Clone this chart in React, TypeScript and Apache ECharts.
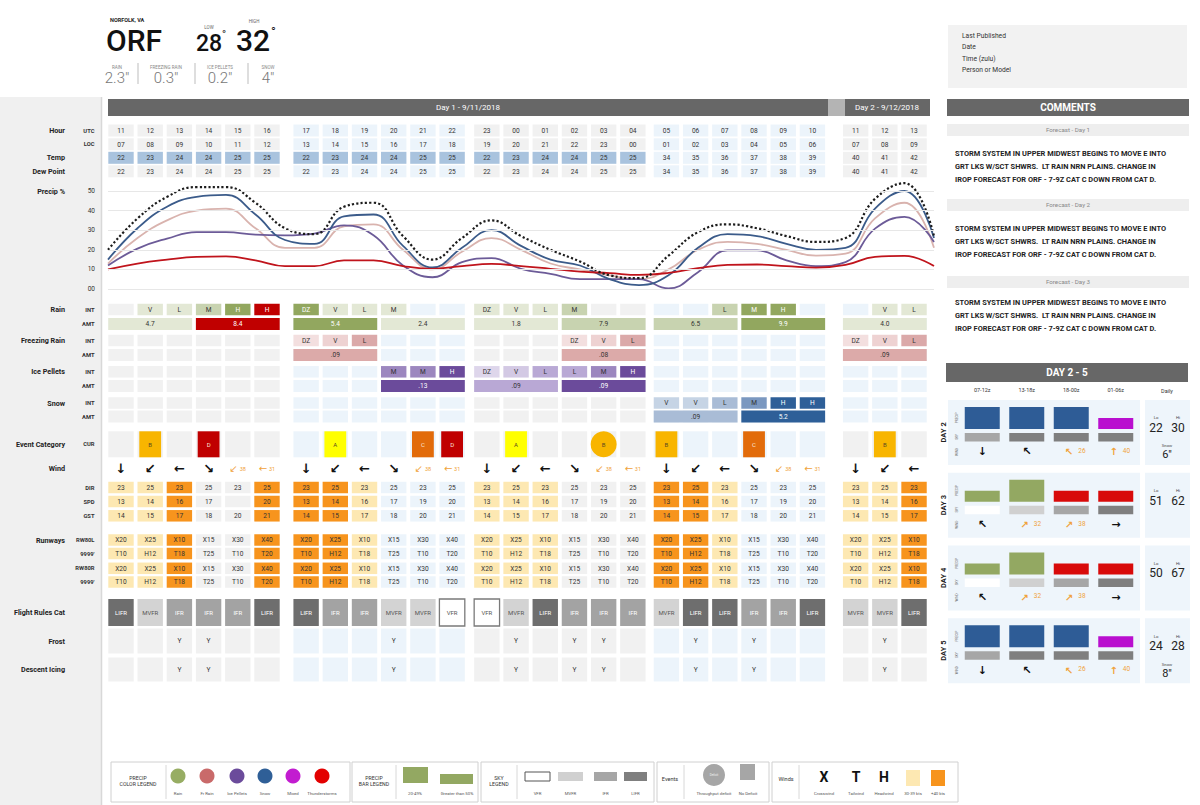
import React, { useEffect, useRef } from 'react';
import * as echarts from 'echarts';

// ================= DATA =================
const HOURS_UTC = ['11','12','13','14','15','16','17','18','19','20','21','22','23','00','01','02','03','04','05','06','07','08','09','10','11','12','13'];
const HOURS_LOC = ['07','08','09','10','11','12','13','14','15','16','17','18','19','20','21','22','23','00','01','02','03','04','05','06','07','08','09'];
const TEMP_F = [22,23,24,24,25,25,22,23,24,24,25,25,22,23,24,24,25,25,34,35,36,37,38,39,40,41,42];
const DEW_POINT_F = [22,23,24,24,25,25,22,23,24,24,25,25,22,23,24,24,25,25,34,35,36,37,38,39,40,41,42];

const PRECIP_TIME = ['10','11','12','13','14','15','16','17','18','19','20','21','22','23','00','01','02','03','04','05','06','07','08','09','10','11','12','13','14'];
const PRECIP_TOTAL = [20,36,47,52,52,44,31,28,42,44,27,15,26,35,27,20,14,7,5.5,17,29,33,31,27,24,26,46,54,27];
const PRECIP_SNOW = [15,31,42,47,48,38,25,23,37,38,22,11,21,30,22,15,12,5,2,7,21,28,27,23,20,21,41,50,26];
const PRECIP_FZRA = [13,26,35,40,41,31,21,21,32,33,20,10,19,26,20,13,10,7,5,10,20,24,23,20,17,18,36,44,21];
const PRECIP_ICE = [12,20.6,25.7,29,29,27.7,27.4,28.3,32.5,27.4,12,6,13.7,15.8,10.3,7.7,5,5,5,0.3,8.6,19.7,19.7,14.6,11.7,13.7,30.8,36.8,24];
const PRECIP_TSTM = [10,13,15,16.4,16.6,14.6,11.7,11.7,14.6,14.6,11.7,10.3,11.7,12.8,11.7,10.3,8.9,8.1,7.2,8.2,10.6,12.3,12.5,11.7,10.9,12.3,16.4,16.9,11.7];

const RAIN_INT = ['','V','L','M','H','H','DZ','V','L','M','','','DZ','V','L','M','','','','','L','M','H','','','V','L'];
const RAIN_INT_SHADE = [0,1,1,2,3,4,3,1,1,1,0,0,1,1,1,2,0,0,0,0,2,3,3,0,0,1,1];
const RAIN_AMT = ['4.7','8.4','5.4','2.4','1.8','7.9','6.5','9.9','4.0'];
const RAIN_AMT_SHADE = [1,4,3,1,1,2,2,3,1];
const FZRA_INT = ['','','','','','','DZ','V','L','','','','','','','DZ','V','L','','','','','','','DZ','V','L'];
const FZRA_AMT = ['','','.09','','','.08','','','.09'];
const ICE_INT = ['','','','','','','','','','M','M','H','DZ','V','L','L','M','H','','','','','','','','',''];
const ICE_AMT = ['','','','.13','.09','.09','','',''];
const ICE_AMT_SHADE = [0,0,0,2,1,2,0,0,0];
const SNOW_INT = ['','','','','','','','','','','','','','','','','','','V','V','L','M','H','H','','',''];
const SNOW_AMT = ['','','','','','','.09','5.2',''];
const SNOW_AMT_SHADE = [0,0,0,0,0,0,1,2,0];

const EVENT_CAT = ['','B','','D','','','','A','','','C','D','','A','','','B','','B','','','C','','','','B',''];
const EVENT_DEFICIT = [0,0,0,0,0,0,0,0,0,0,0,0,0,0,0,0,1,0,0,0,0,0,0,0,0,0,0];

const WIND_ARROW = ['↓','↙','←','↘','↙','←','↓','↙','←','↘','↙','←','↓','↙','←','↘','↙','←','↓','↙','←','↘','↙','←','↓','↙','←'];
const WIND_ARROW_KTS = ['','','','','38','31','','','','','38','31','','','','','38','31','','','','','38','31','','',''];
const WIND_DIR = [23,25,23,25,23,25,23,25,23,25,23,25,23,25,23,25,23,25,23,25,23,25,23,25,23,25,23];
const WIND_SPD = [13,14,16,17,null,20,13,14,16,17,19,20,13,14,16,17,19,20,13,14,16,17,19,20,13,14,16];
const WIND_GST = [14,15,17,18,20,21,14,15,17,18,20,21,14,15,17,18,20,21,14,15,17,18,20,21,14,15,17];
const WIND_CAT = [1,1,2,0,0,2,2,2,1,0,0,0,1,1,1,0,0,0,2,2,1,0,0,0,1,1,2];

const RW80L = ['X20','X25','X10','X15','X30','X40','X20','X25','X10','X15','X30','X40','X20','X25','X10','X15','X30','X40','X20','X25','X10','X15','X30','X40','X20','X25','X10'];
const RW80L_9999 = ['T10','H12','T18','T25','T10','T20','T10','H12','T18','T25','T10','T20','T10','H12','T18','T25','T10','T20','T10','H12','T18','T25','T10','T20','T10','H12','T18'];
const RW80R = ['X20','X25','X10','X15','X30','X40','X20','X25','X10','X15','X30','X40','X20','X25','X10','X15','X30','X40','X20','X25','X10','X15','X30','X40','X20','X25','X10'];
const RW80R_9999 = ['T10','H12','T18','T25','T10','T20','T10','H12','T18','T25','T10','T20','T10','H12','T18','T25','T10','T20','T10','H12','T18','T25','T10','T20','T10','H12','T18'];

const FLIGHT_RULES = ['LIFR','MVFR','IFR','IFR','IFR','LIFR','LIFR','IFR','IFR','MVFR','MVFR','VFR','VFR','MVFR','LIFR','IFR','IFR','IFR','MVFR','LIFR','LIFR','IFR','IFR','LIFR','MVFR','MVFR','LIFR'];
const FROST = ['','','Y','Y','','','','','','Y','','','','Y','','Y','Y','','','Y','','Y','','','','Y',''];
const DESCENT_ICING = ['','','Y','Y','','','','','','Y','','','','Y','','Y','Y','','','Y','','Y','','','','Y',''];

const OUTLOOK_PERIODS = ['07-12z','13-18z','18-00z','01-06z'];
const OUTLOOK_DAYS = ['DAY 2','DAY 3','DAY 4','DAY 5'];
const OUTLOOK_PRECIP = [
  ['Snow','Snow','Snow','Mixed'],
  ['Rain','Rain','Thunderstorms','Thunderstorms'],
  ['Rain','Rain','Thunderstorms','Thunderstorms'],
  ['Snow','Snow','Snow','Mixed'],
];
const OUTLOOK_POP = [[60,60,60,40],[40,60,40,40],[40,60,40,40],[60,60,60,40]];
const OUTLOOK_SKY = [
  ['IFR','LIFR','LIFR','LIFR'],
  ['VFR','MVFR','IFR','LIFR'],
  ['VFR','MVFR','IFR','LIFR'],
  ['IFR','LIFR','LIFR','LIFR'],
];
const OUTLOOK_WIND = [['↓','↖','↖','↑'],['↖','↗','↗','→'],['↖','↗','↗','→'],['↓','↖','↖','↑']];
const OUTLOOK_GUST = [['','','26','40'],['','32','38',''],['','32','38',''],['','','26','40']];
const OUTLOOK_LO = [22,51,50,24];
const OUTLOOK_HI = [30,62,67,28];
const OUTLOOK_SNOW = ['6"','','','8"'];

const COMMENT_DAYS = ['Forecast - Day 1','Forecast - Day 2','Forecast - Day 3'];
const COMMENT_LINES = [
  'STORM SYSTEM IN UPPER MIDWEST BEGINS TO MOVE E INTO',
  'GRT LKS W/SCT SHWRS.  LT RAIN NRN PLAINS. CHANGE IN',
  'IROP FORECAST FOR ORF - 7-9Z CAT C DOWN FROM CAT D.',
];
const SUMMARY_LABELS = ['RAIN','FREEZING RAIN','ICE PELLETS','SNOW'];
const SUMMARY_VALUES = ['2.3"','0.3"','0.2"','4"'];

// ================= STYLE / LAYOUT =================
const FONT = 'Roboto, "Noto Sans", sans-serif';
const ARROW_FONT = '"DejaVu Sans", sans-serif';
const GREY = '#f1f1f1';
const LBLUE = '#ecf4fb';
const BG_STD = [GREY, LBLUE, GREY, LBLUE, GREY];
const BG_PRECIP = [GREY, LBLUE, GREY, LBLUE, LBLUE];
const TEMP_COLD = '#a9c3de';
const ORANGE = '#f7941d';
const YELLOW = '#fde8b2';
const ORANGE_TXT = '#f0a23a';
const GROUP_OFFSET = [0, 0.34, 0.53, 0.68, 1.16];
const CELL_W = 0.87;

const ROWS: any = {
  utc: [130.5, 12], loc: [144.3, 12], temp: [157.8, 12], dew: [171.3, 12],
  rainInt: [309.5, 11.5], rainAmt: [324, 12], frInt: [340.5, 11.5], frAmt: [355, 12],
  ipInt: [371.8, 11.5], ipAmt: [386, 12], snInt: [403, 11.5], snAmt: [416.5, 12],
  event: [444.3, 26], wind: [468.5, 0], dir: [487.5, 11.5], spd: [501.5, 11.5], gst: [515.8, 11.5],
  rw1: [540, 11.5], th1: [553.5, 11.5], rw2: [568.3, 11.5], th2: [582, 11.5],
  flight: [612.5, 27], frost: [641, 25], icing: [669.5, 24],
};

const RAIN_SHADES = ['', '#e3e8d5', '#c8d3b0', '#92a75f', '#c00000'];
const FZRA_COLORS: any = { DZ: '#f3dfdf', V: '#eed2d2', L: '#dba9a9' };
const ICE_COLORS: any = { DZ: '#ded6eb', V: '#d3c9e4', L: '#b9a9d5', M: '#9c87bf', H: '#6b4b9b' };
const ICE_AMT_COLORS = ['', '#b9a8d5', '#6b4b9b'];
const SNOW_COLORS: any = { V: '#c6d4e5', L: '#a9bcd6', M: '#7b98c0', H: '#2e5f98' };
const SNOW_AMT_COLORS = ['', '#a9bcd6', '#2e5f98'];
const EVENT_COLORS: any = { A: '#ffff00', B: '#f8b500', C: '#e26b0a', D: '#c00000' };
const FLIGHT_COLORS: any = { LIFR: '#6e6e6e', IFR: '#a3a3a3', MVFR: '#d3d3d3', VFR: '#ffffff' };
const SKY_COLORS: any = { LIFR: '#7f7f7f', IFR: '#a6a6a6', MVFR: '#d0d0d0', VFR: '#ffffff' };
const PRECIP_COLORS: any = { Rain: '#93a862', 'Fr Rain': '#cb6c6c', 'Ice Pellets': '#6b4b9b', Snow: '#2e5c96', Mixed: '#b90fcf', Thunderstorms: '#d80a0a' };

const grp = (c: number) => Math.min(4, Math.floor(c / 6));
const pos = (c: number) => c + GROUP_OFFSET[grp(c)];

function buildCells() {
  const cells: any[] = [];
  const push = (c0: number, c1: number, row: string, o: any) =>
    cells.push({ x0: pos(c0), x1: pos(c1), y: ROWS[row][0], h: ROWS[row][1], ...o });
  const N = HOURS_UTC.length;
  const white = (f: string) => (f === '#92a75f' || f === '#c00000' || f === '#6b4b9b' || f === '#2e5f98');
  for (let c = 0; c < N; c++) {
    const g = grp(c);
    const bg = BG_STD[g];
    const bgp = BG_PRECIP[g];
    push(c, c, 'utc', { fill: bg, text: HOURS_UTC[c] });
    push(c, c, 'loc', { fill: bg, text: HOURS_LOC[c] });
    push(c, c, 'temp', { fill: TEMP_F[c] <= 32 ? TEMP_COLD : bg, text: String(TEMP_F[c]) });
    push(c, c, 'dew', { fill: bg, text: String(DEW_POINT_F[c]) });
    const rs = RAIN_INT_SHADE[c];
    const rf = rs ? RAIN_SHADES[rs] : bgp;
    push(c, c, 'rainInt', { fill: rf, text: RAIN_INT[c], color: white(rf) ? '#fff' : '#333' });
    push(c, c, 'rainAmt', { fill: bgp });
    const ff = FZRA_INT[c] ? FZRA_COLORS[FZRA_INT[c]] : bgp;
    push(c, c, 'frInt', { fill: ff, text: FZRA_INT[c] });
    push(c, c, 'frAmt', { fill: bgp });
    const ifc = ICE_INT[c] ? ICE_COLORS[ICE_INT[c]] : bgp;
    push(c, c, 'ipInt', { fill: ifc, text: ICE_INT[c], color: white(ifc) ? '#fff' : '#333' });
    push(c, c, 'ipAmt', { fill: bgp });
    const sfc = SNOW_INT[c] ? SNOW_COLORS[SNOW_INT[c]] : bgp;
    push(c, c, 'snInt', { fill: sfc, text: SNOW_INT[c], color: white(sfc) ? '#fff' : '#333' });
    push(c, c, 'snAmt', { fill: bgp });
    push(c, c, 'event', { fill: bg });
    if (EVENT_CAT[c]) {
      const ec = EVENT_COLORS[EVENT_CAT[c]];
      const tc = EVENT_CAT[c] === 'C' || EVENT_CAT[c] === 'D' ? '#fbe3d6' : '#5a4a20';
      if (EVENT_DEFICIT[c]) push(c, c, 'event', { fill: ec, shape: 'circle', text: EVENT_CAT[c], color: tc, fs: 6 });
      else push(c, c, 'event', { fill: ec, inset: 1.8, text: EVENT_CAT[c], color: tc, fs: 6 });
    }
    if (WIND_ARROW_KTS[c]) {
      push(c, c, 'wind', { text: WIND_ARROW[c], color: ORANGE_TXT, fs: 10, ff: ARROW_FONT, dx: -4, sub: WIND_ARROW_KTS[c] });
    } else {
      push(c, c, 'wind', { text: WIND_ARROW[c], color: '#111', fs: 13, ff: ARROW_FONT, fw: 'bold' });
    }
    const wf = WIND_CAT[c] === 2 ? ORANGE : WIND_CAT[c] === 1 ? YELLOW : bg;
    push(c, c, 'dir', { fill: wf, text: String(WIND_DIR[c]) });
    push(c, c, 'spd', { fill: wf, text: WIND_SPD[c] == null ? '' : String(WIND_SPD[c]) });
    push(c, c, 'gst', { fill: wf, text: String(WIND_GST[c]) });
    push(c, c, 'rw1', { fill: wf, text: RW80L[c] });
    push(c, c, 'th1', { fill: wf, text: RW80L_9999[c] });
    push(c, c, 'rw2', { fill: wf, text: RW80R[c] });
    push(c, c, 'th2', { fill: wf, text: RW80R_9999[c] });
    const fr = FLIGHT_RULES[c];
    push(c, c, 'flight', {
      fill: FLIGHT_COLORS[fr], text: fr, fs: 6,
      color: fr === 'LIFR' || fr === 'IFR' ? '#fff' : '#555',
      stroke: fr === 'VFR' ? '#7a7a7a' : undefined,
    });
    push(c, c, 'frost', { fill: bg, text: FROST[c] });
    push(c, c, 'icing', { fill: bg, text: DESCENT_ICING[c] });
  }
  for (let t = 0; t < RAIN_AMT.length; t++) {
    const c0 = t * 3, c1 = t * 3 + 2;
    if (RAIN_AMT[t]) {
      const f = RAIN_SHADES[RAIN_AMT_SHADE[t]];
      push(c0, c1, 'rainAmt', { fill: f, text: RAIN_AMT[t], color: white(f) ? '#fff' : '#333' });
    }
    if (FZRA_AMT[t]) push(c0, c1, 'frAmt', { fill: '#dcaaa9', text: FZRA_AMT[t] });
    if (ICE_AMT[t]) {
      const f = ICE_AMT_COLORS[ICE_AMT_SHADE[t]];
      push(c0, c1, 'ipAmt', { fill: f, text: ICE_AMT[t], color: white(f) ? '#fff' : '#333' });
    }
    if (SNOW_AMT[t]) {
      const f = SNOW_AMT_COLORS[SNOW_AMT_SHADE[t]];
      push(c0, c1, 'snAmt', { fill: f, text: SNOW_AMT[t], color: white(f) ? '#fff' : '#333' });
    }
  }
  return cells;
}

// ---------- graphic helpers ----------
const T = (text: string, x: number, y: number, o: any = {}) => ({
  type: 'text', x, y, rotation: o.rot || 0, z: 10, silent: true,
  style: {
    text, fill: o.fill || '#333', fontSize: o.fs || 7, fontWeight: o.fw || 'normal',
    fontFamily: o.ff || FONT, align: o.align || 'left', verticalAlign: o.va || 'middle',
  },
});
const RC = (x: number, y: number, w: number, h: number, fill: string, o: any = {}) => ({
  type: 'rect', z: o.z ?? 1, silent: true,
  shape: { x, y, width: w, height: h },
  style: { fill, stroke: o.stroke || null, lineWidth: o.lw || 1 },
});
const LN = (x1: number, y1: number, x2: number, y2: number, stroke: string, lw = 1) => ({
  type: 'line', z: 2, silent: true, shape: { x1, y1, x2, y2 }, style: { stroke, lineWidth: lw },
});
const CI = (cx: number, cy: number, r: number, fill: string) => ({
  type: 'circle', z: 3, silent: true, shape: { cx, cy, r }, style: { fill },
});

function buildGraphic() {
  const g: any[] = [];
  g.push(RC(0, 97, 101, 708, '#f0f0f0', { z: 0 }));
  g.push(LN(101.5, 97, 101.5, 805, '#d8d8d8', 1.5));
  // header
  g.push(T('NORFOLK, VA', 110, 19.8, { fs: 5.5, fw: 'bold', fill: '#222' }));
  g.push(T('ORF', 106, 40.5, { fs: 30, fw: 500, fill: '#111' }));
  g.push(T('LOW', 209, 27.8, { fs: 4.5, fill: '#666', align: 'center' }));
  g.push(T('28', 196, 43, { fs: 23, fw: 500, fill: '#111' }));
  g.push(T('°', 222, 34, { fs: 11, fill: '#111' }));
  g.push(T('HIGH', 254, 21.6, { fs: 4.5, fill: '#666', align: 'center' }));
  g.push(T('32', 236, 40.5, { fs: 30, fw: 500, fill: '#111' }));
  g.push(T('°', 271, 31, { fs: 13, fill: '#111' }));
  const sx = [117, 166, 220, 268];
  SUMMARY_LABELS.forEach((l, i) => {
    g.push(T(l, sx[i], 67, { fs: 4.5, fill: '#888', align: 'center' }));
    g.push(T(SUMMARY_VALUES[i], sx[i], 77.5, { fs: 15, fill: '#777', align: 'center', fw: 300 }));
  });
  [138, 195, 248].forEach((x) => g.push(LN(x, 63, x, 84, '#bdbdbd', 1)));
  // top right info
  g.push(RC(948, 25, 239, 63, '#f2f2f2'));
  ['Last Published', 'Date', 'Time (zulu)', 'Person or Model'].forEach((s, i) =>
    g.push(T(s, 962, 36 + i * 11.4, { fs: 6.7, fill: '#333' })));
  // day headers
  g.push(RC(108, 99, 720, 17, '#676767'));
  g.push(RC(828, 99, 17, 17, '#b4b4b4'));
  g.push(RC(845, 99, 85, 17, '#676767'));
  g.push(T('Day 1 - 9/11/2018', 468, 107.8, { fs: 8, fill: '#fff', align: 'center' }));
  g.push(T('Day 2 - 9/12/2018', 887, 107.8, { fs: 8, fill: '#fff', align: 'center' }));
  // comments
  g.push(RC(947, 99, 242, 17, '#676767'));
  g.push(T('COMMENTS', 1068, 107.8, { fs: 10, fw: 'bold', fill: '#fff', align: 'center' }));
  const bandY = [124, 199, 276];
  const textY = [153, 228, 302];
  COMMENT_DAYS.forEach((d, i) => {
    g.push(RC(947, bandY[i], 242, 12, '#eeeeee'));
    g.push(T(d, 1068, bandY[i] + 6, { fs: 6.2, fill: '#888', align: 'center' }));
    COMMENT_LINES.forEach((l, j) => g.push(T(l, 955, textY[i] + j * 13.2, { fs: 7.4, fw: 'bold', fill: '#222' })));
  });
  // day 2-5 header
  g.push(RC(946, 363, 242, 19, '#676767'));
  g.push(T('DAY 2 - 5', 1067, 372.5, { fs: 10, fw: 'bold', fill: '#fff', align: 'center' }));
  g.push(T('Daily', 1167, 391, { fs: 5.5, fill: '#333', align: 'center' }));
  // left labels
  const main: [string, number][] = [
    ['Hour', ROWS.utc[0]], ['Temp', ROWS.temp[0]], ['Dew Point', ROWS.dew[0]], ['Precip %', 191],
    ['Rain', ROWS.rainInt[0]], ['Freezing Rain', ROWS.frInt[0]], ['Ice Pellets', ROWS.ipInt[0]], ['Snow', ROWS.snInt[0]],
    ['Event Category', ROWS.event[0]], ['Wind', ROWS.wind[0]], ['Runways', ROWS.rw1[0]],
    ['Flight Rules Cat', ROWS.flight[0]], ['Frost', ROWS.frost[0]], ['Descent Icing', ROWS.icing[0]],
  ];
  main.forEach(([s, y]) => g.push(T(s, 65, y, { fs: 7.2, fw: 'bold', fill: '#222', align: 'right' })));
  const subs: [string, string][] = [
    ['UTC', 'utc'], ['LOC', 'loc'], ['INT', 'rainInt'], ['AMT', 'rainAmt'], ['INT', 'frInt'], ['AMT', 'frAmt'],
    ['INT', 'ipInt'], ['AMT', 'ipAmt'], ['INT', 'snInt'], ['AMT', 'snAmt'], ['CUR', 'event'],
    ['DIR', 'dir'], ['SPD', 'spd'], ['GST', 'gst'], ['RW80L', 'rw1'], ["9999'", 'th1'], ['RW80R', 'rw2'], ["9999'", 'th2'],
  ];
  subs.forEach(([s, r]) => g.push(T(s, 94.5, ROWS[r][0], { fs: 5.8, fw: 'bold', fill: '#333', align: 'right' })));

  // ---------- bottom legend ----------
  const LY = 762, LH = 40;
  const boxes = [[111, 350, 166], [352, 478, 396], [481, 654, 517], [657, 769, 684], [772, 958, 799]];
  boxes.forEach(([a, b, d]) => {
    g.push(RC(a, LY, b - a, LH, '#ffffff', { stroke: '#d0d0d0', lw: 1 }));
    g.push(LN(d, LY + 3, d, LY + LH - 3, '#d8d8d8', 1));
  });
  const two = (a: string, b: string, x: number) => {
    g.push(T(a, x, 777.5, { fs: 5.2, fill: '#333', align: 'center' }));
    g.push(T(b, x, 784, { fs: 5.2, fill: '#333', align: 'center' }));
  };
  two('PRECIP', 'COLOR LEGEND', 138);
  const pc = ['Rain', 'Fr Rain', 'Ice Pellets', 'Snow', 'Mixed', 'Thunderstorms'];
  const pcx = [178, 207, 237, 265, 293, 322];
  const pcc = ['#97ad63', '#c96a6a', '#6b4b9b', '#2f5f97', '#c21cd0', '#e30000'];
  pc.forEach((s, i) => {
    g.push(CI(pcx[i], 776, 7.5, pcc[i]));
    g.push(T(s, pcx[i], 793.5, { fs: 4.3, fill: '#555', align: 'center' }));
  });
  two('PRECIP', 'BAR LEGEND', 374);
  g.push(RC(403, 767, 25, 16, '#93a862', { z: 3 }));
  g.push(RC(440, 774, 33, 10, '#93a862', { z: 3 }));
  g.push(T('20-49%', 415, 793.5, { fs: 4.3, fill: '#555', align: 'center' }));
  g.push(T('Greater than 50%', 457, 793.5, { fs: 4.3, fill: '#555', align: 'center' }));
  two('SKY', 'LEGEND', 499);
  const sk = [['VFR', 525, 25], ['MVFR', 558, 25], ['IFR', 594, 23], ['LIFR', 624, 23]];
  sk.forEach(([s, x, w]: any) => {
    g.push(RC(x, 772, w, 9, SKY_COLORS[s], { z: 3, stroke: s === 'VFR' ? '#555' : null, lw: 1 }));
    g.push(T(s, x + w / 2, 793.5, { fs: 4.3, fill: '#555', align: 'center' }));
  });
  g.push(T('Events', 670, 779, { fs: 5.5, fill: '#333', align: 'center' }));
  g.push(CI(714, 775, 11, '#a6a6a6'));
  g.push(T('Deficit', 714, 775, { fs: 3, fill: '#eee', align: 'center' }));
  g.push(RC(740, 764, 15, 16, '#a6a6a6', { z: 3 }));
  g.push(T('Throughput deficit', 714, 793.5, { fs: 4.3, fill: '#555', align: 'center' }));
  g.push(T('No Deficit', 748, 793.5, { fs: 4.3, fill: '#555', align: 'center' }));
  g.push(T('Winds', 786, 779, { fs: 5.5, fill: '#333', align: 'center' }));
  [['X', 824, 'Crosswind'], ['T', 856, 'Tailwind'], ['H', 884, 'Headwind']].forEach(([l, x, s]: any) => {
    g.push(T(l, x, 777, { fs: 14, fw: 'bold', fill: '#111', align: 'center' }));
    g.push(T(s, x, 793.5, { fs: 4.3, fill: '#555', align: 'center' }));
  });
  g.push(RC(906, 770, 14, 16, YELLOW, { z: 3 }));
  g.push(RC(931, 770, 14, 16, ORANGE, { z: 3 }));
  g.push(T('30-39 kts', 913, 793.5, { fs: 4.3, fill: '#555', align: 'center' }));
  g.push(T('+40 kts', 938, 793.5, { fs: 4.3, fill: '#555', align: 'center' }));
  return g;
}

function buildOption() {
  const CELLS = buildCells();
  const lineS = (name: string, data: number[], color: string, type: string = 'solid', z = 3) => ({
    type: 'line', name, xAxisIndex: 1, yAxisIndex: 1, data, smooth: 0.45, symbol: 'none', clip: false, z,
    lineStyle: { color, width: type === 'dotted' ? 2.2 : 1.8, type },
  });
  return {
    animation: false,
    backgroundColor: '#ffffff',
    textStyle: { fontFamily: FONT },
    grid: [
      { left: 106.4, top: 0, width: 823.4, height: 805, show: false },
      { left: 108, top: 191, width: 826, height: 98, show: false },
      { left: 960, top: 396, width: 178, height: 291, show: false },
    ],
    xAxis: [
      { type: 'value', gridIndex: 0, min: -0.5, max: 27.7, show: false },
      { type: 'category', gridIndex: 1, data: PRECIP_TIME, boundaryGap: false, show: false },
      {
        type: 'category', gridIndex: 2, data: OUTLOOK_PERIODS, position: 'top',
        axisLine: { show: false }, axisTick: { show: false },
        axisLabel: { fontSize: 5.5, color: '#333', margin: 3, fontFamily: FONT },
      },
    ],
    yAxis: [
      { type: 'value', gridIndex: 0, min: 0, max: 805, inverse: true, show: false },
      {
        type: 'value', gridIndex: 1, min: 0, max: 50, interval: 10, z: 5,
        axisLine: { show: false }, axisTick: { show: false },
        axisLabel: { fontSize: 6.5, color: '#333', margin: 13, fontFamily: FONT, formatter: (v: number) => (v === 0 ? '00' : String(v)) },
        splitLine: { lineStyle: { color: '#e7e7e7', width: 1 } },
      },
      { type: 'category', gridIndex: 2, data: OUTLOOK_DAYS, inverse: true, show: false },
    ],
    series: [
      {
        type: 'custom', name: 'table', xAxisIndex: 0, yAxisIndex: 0, clip: false, z: 2,
        data: CELLS.map((c) => [c.x0, c.y]),
        renderItem: (params: any, api: any) => {
          const c = CELLS[params.dataIndex];
          const a = api.coord([c.x0, c.y]);
          const b = api.coord([c.x1, c.y]);
          const unit = api.size([1, 0])[0];
          const half = (CELL_W * unit) / 2 - (c.inset || 0);
          const left = a[0] - half, right = b[0] + half;
          const top = a[1] - c.h / 2;
          const ch: any[] = [];
          if (c.shape === 'circle') {
            ch.push({ type: 'circle', shape: { cx: (left + right) / 2, cy: a[1], r: c.h / 2 }, style: { fill: c.fill } });
          } else if (c.fill) {
            ch.push({ type: 'rect', shape: { x: left, y: top, width: right - left, height: c.h },
              style: { fill: c.fill, stroke: c.stroke || null, lineWidth: c.stroke ? 1.3 : 0 } });
          }
          if (c.text) {
            ch.push({ type: 'text', style: {
              text: c.text, x: (left + right) / 2 + (c.dx || 0), y: a[1] + 0.3, align: 'center', verticalAlign: 'middle',
              fill: c.color || '#333', fontSize: c.fs || 6.6, fontFamily: c.ff || FONT, fontWeight: c.fw || 'normal' } });
          }
          if (c.sub) {
            ch.push({ type: 'text', style: {
              text: c.sub, x: (left + right) / 2 + 2, y: a[1], align: 'left', verticalAlign: 'middle',
              fill: ORANGE_TXT, fontSize: 5.5, fontFamily: FONT } });
          }
          return { type: 'group', children: ch };
        },
      },
      lineS('Fr Rain', PRECIP_FZRA, '#d9b3ae'),
      lineS('Ice Pellets', PRECIP_ICE, '#6c5b98'),
      lineS('Snow', PRECIP_SNOW, '#3b5b8a'),
      lineS('Thunderstorms', PRECIP_TSTM, '#c0141c', 'solid', 4),
      lineS('Total', PRECIP_TOTAL, '#1c1c1c', 'dotted', 4),
      {
        type: 'custom', name: 'outlookBlocks', xAxisIndex: 2, yAxisIndex: 2, clip: false, z: 1,
        data: OUTLOOK_DAYS.map((_, i) => [0, i]),
        renderItem: (params: any, api: any) => {
          const di = api.value(1);
          const cs = params.coordSys;
          const cy = api.coord([0, di])[1];
          const top = cy - 32.5;
          const right = cs.x + cs.width;
          const ch: any[] = [
            { type: 'rect', shape: { x: cs.x - 12, y: top, width: cs.width + 14, height: 65 }, style: { fill: '#eef5fb' } },
            { type: 'rect', shape: { x: right + 7, y: top, width: 45, height: 65 }, style: { fill: '#eef5fb' } },
            { type: 'text', x: 943, y: cy, rotation: Math.PI / 2, style: { text: OUTLOOK_DAYS[di], align: 'center', verticalAlign: 'middle', fontSize: 7.5, fontWeight: 'bold', fill: '#222', fontFamily: FONT } },
            { type: 'text', x: 956.5, y: top + 18, rotation: Math.PI / 2, style: { text: 'PRECIP', align: 'center', verticalAlign: 'middle', fontSize: 3.2, fill: '#666', fontFamily: FONT } },
            { type: 'text', x: 956.5, y: top + 37, rotation: Math.PI / 2, style: { text: 'SKY', align: 'center', verticalAlign: 'middle', fontSize: 3.2, fill: '#666', fontFamily: FONT } },
            { type: 'text', x: 956.5, y: top + 52, rotation: Math.PI / 2, style: { text: 'WIND', align: 'center', verticalAlign: 'middle', fontSize: 3.2, fill: '#666', fontFamily: FONT } },
            { type: 'text', style: { text: 'Lo', x: right + 18, y: top + 18, align: 'center', verticalAlign: 'middle', fontSize: 4.2, fill: '#444', fontFamily: FONT } },
            { type: 'text', style: { text: 'Hi', x: right + 40, y: top + 18, align: 'center', verticalAlign: 'middle', fontSize: 4.2, fill: '#444', fontFamily: FONT } },
            { type: 'text', style: { text: String(OUTLOOK_LO[di]), x: right + 18, y: top + 28, align: 'center', verticalAlign: 'middle', fontSize: 12, fill: '#222', fontFamily: FONT } },
            { type: 'text', style: { text: String(OUTLOOK_HI[di]), x: right + 40, y: top + 28, align: 'center', verticalAlign: 'middle', fontSize: 12, fill: '#222', fontFamily: FONT } },
          ];
          if (OUTLOOK_SNOW[di]) {
            ch.push({ type: 'text', style: { text: 'Snow', x: right + 29, y: top + 46, align: 'center', verticalAlign: 'middle', fontSize: 4.2, fill: '#444', fontFamily: FONT } });
            ch.push({ type: 'text', style: { text: OUTLOOK_SNOW[di], x: right + 29, y: top + 55, align: 'center', verticalAlign: 'middle', fontSize: 11, fill: '#222', fontFamily: FONT } });
          }
          return { type: 'group', children: ch };
        },
      },
      {
        type: 'custom', name: 'outlook', xAxisIndex: 2, yAxisIndex: 2, clip: false, z: 3,
        data: OUTLOOK_DAYS.flatMap((_, di) => OUTLOOK_PERIODS.map((__, pi) => [pi, di])),
        renderItem: (params: any, api: any) => {
          const pi = api.value(0), di = api.value(1);
          const p = api.coord([pi, di]);
          const cx = p[0], top = p[1] - 32.5;
          const bw = 35;
          const ph = OUTLOOK_POP[di][pi] >= 50 ? 22 : 11;
          const gust = OUTLOOK_GUST[di][pi];
          const ch: any[] = [
            { type: 'rect', shape: { x: cx - bw / 2, y: top + 29 - ph, width: bw, height: ph }, style: { fill: PRECIP_COLORS[OUTLOOK_PRECIP[di][pi]] } },
            { type: 'rect', shape: { x: cx - bw / 2, y: top + 33, width: bw, height: 8.5 }, style: { fill: SKY_COLORS[OUTLOOK_SKY[di][pi]] } },
            { type: 'text', style: { text: OUTLOOK_WIND[di][pi], x: gust ? cx - 2 : cx, y: top + 52, align: 'center', verticalAlign: 'middle', fill: gust ? ORANGE_TXT : '#111', fontSize: gust ? 10 : 11, fontWeight: 'bold', fontFamily: ARROW_FONT } },
          ];
          if (gust) ch.push({ type: 'text', style: { text: gust, x: cx + 7, y: top + 51, align: 'left', verticalAlign: 'middle', fill: ORANGE_TXT, fontSize: 6.5, fontFamily: FONT } });
          return { type: 'group', children: ch };
        },
      },
    ],
    graphic: { elements: buildGraphic() },
  };
}

export default function App() {
  const ref = useRef<HTMLDivElement>(null);
  useEffect(() => {
    document.body.style.margin = '0';
    const chart = echarts.init(ref.current as HTMLDivElement, undefined, { renderer: 'svg', width: 1200, height: 805 });
    chart.setOption(buildOption() as any);
    return () => chart.dispose();
  }, []);
  return <div ref={ref} style={{ position: 'absolute', left: 0, top: 0, width: 1200, height: 805, background: '#fff' }} />;
}
